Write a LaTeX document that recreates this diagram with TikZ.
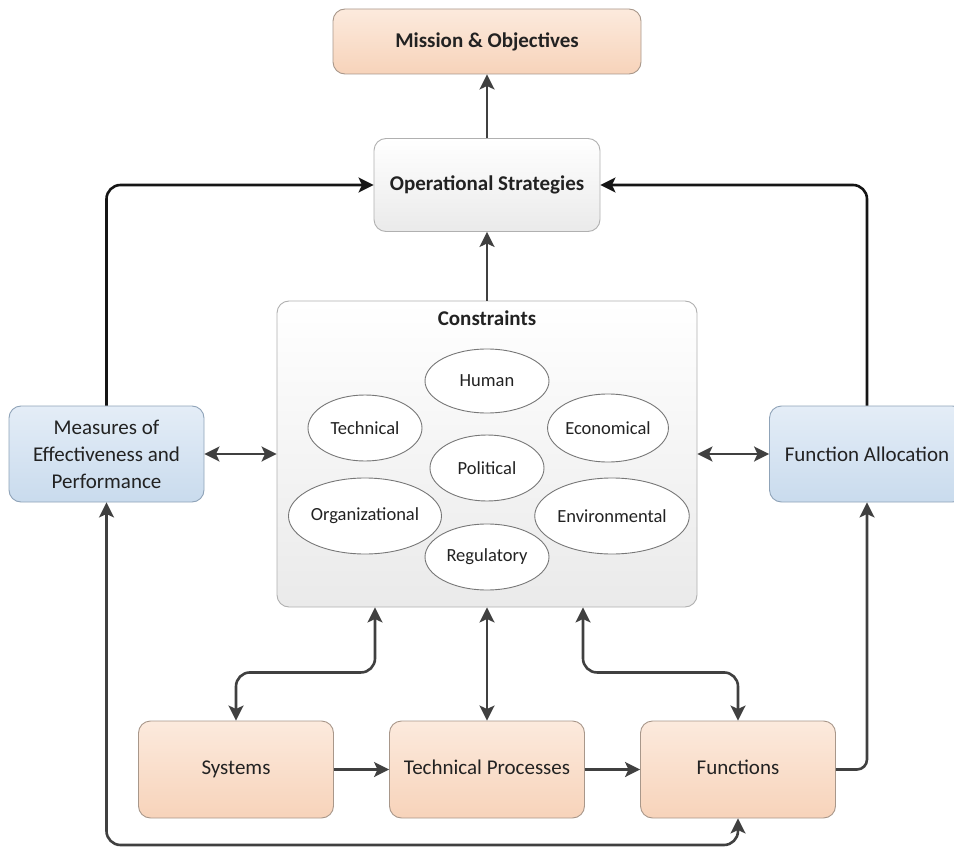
\documentclass[tikz,border=0pt]{standalone}
\usepackage{fontspec}
\setmainfont{Carlito}
\usetikzlibrary{arrows.meta,calc,shapes.geometric}

\definecolor{peachTop}{HTML}{FCEADD}
\definecolor{peachBot}{HTML}{F7D3BA}
\definecolor{peachLine}{HTML}{A8978A}
\definecolor{blueTop}{HTML}{E4EDF7}
\definecolor{blueBot}{HTML}{C9DBED}
\definecolor{blueLine}{HTML}{8FA3B8}
\definecolor{greyTop}{HTML}{FFFFFF}
\definecolor{greyBot}{HTML}{EAEAEA}
\definecolor{greyLine}{HTML}{B0B0B0}
\definecolor{ellLine}{HTML}{777777}
\definecolor{wire}{HTML}{404040}
\definecolor{wireDark}{HTML}{151515}
\definecolor{ink}{HTML}{222222}

\begin{document}
\begin{tikzpicture}[x=1pt,y=-1pt,
  >={Stealth[length=15pt,width=15pt,inset=3.5pt]},
  box/.style={draw, rounded corners=12pt, line width=0.9pt, align=center,
    inner sep=0pt, text=ink, font=\fontsize{21}{27}\selectfont},
  peachbox/.style={box, draw=peachLine, top color=peachTop, bottom color=peachBot,
    minimum width=195pt, minimum height=97pt},
  rowbox/.style={peachbox, text height=14pt, text depth=5pt},
  bluebox/.style={box, draw=blueLine, top color=blueTop, bottom color=blueBot,
    minimum width=195pt, minimum height=96pt},
  greybox/.style={box, draw=greyLine, top color=greyTop, bottom color=greyBot},
  oval/.style={ellipse, draw=ellLine, fill=white, line width=0.9pt, inner sep=0pt,
    text=ink, font=\fontsize{18.5}{21}\selectfont},
  conn/.style={line width=2.6pt, draw=wire, rounded corners=14pt},
  topconn/.style={conn, draw=wireDark}]

\useasboundingbox (0,0) rectangle (954,848);
\clip (0,0) rectangle (954,848);

% upper chain
\node[peachbox, minimum width=308pt, minimum height=65pt, font=\fontsize{21}{27}\selectfont\bfseries]
  (mission) at (487,41.5) {Mission \& Objectives};
\node[greybox, minimum width=226pt, minimum height=93pt, font=\fontsize{21}{27}\selectfont\bfseries]
  (ops) at (487,185) {Operational Strategies};

% constraints panel with its ovals
\node[greybox, minimum width=420pt, minimum height=306pt] (cons) at (487,454) {};
\node[text=ink, font=\fontsize{21}{27}\selectfont\bfseries] (constitle) at (487,318) {Constraints};
\node[oval, minimum width=124pt, minimum height=64pt] (human) at (487,381) {Human};
\node[oval, minimum width=114pt, minimum height=66pt] (tech) at (365,428) {Technical};
\node[oval, minimum width=116pt, minimum height=68pt] (econ) at (608,428) {Economical};
\node[oval, minimum width=114pt, minimum height=66pt] (pol) at (487,468) {Political};
\node[oval, minimum width=146pt, minimum height=76pt] (org) at (365,516) {Organizational};
\node[oval, minimum width=146pt, minimum height=76pt] (env) at (612,516) {Environmental};
\node[oval, minimum width=124pt, minimum height=66pt] (reg) at (487,557) {Regulatory};

% side boxes
\node[bluebox] (meas) at (106.5,454) {Measures of\\Effectiveness and\\Performance};
\node[bluebox] (falloc) at (867,454) {Function Allocation};

% bottom row
\node[rowbox] (sys) at (236,769.5) {Systems};
\node[rowbox] (tp) at (487,769.5) {Technical Processes};
\node[rowbox] (func) at (738,769.5) {Functions};

\coordinate (loopy) at (0,845);

% connectors
\draw[conn,->] (ops) -- (mission);
\draw[conn,->] (cons) -- (ops);
\draw[topconn,->] (meas.north) |- (ops.west);
\draw[topconn,->] (falloc.north) |- (ops.east);
\draw[conn,<->] (meas) -- (cons);
\draw[conn,<->] (cons) -- (falloc);
\draw[conn,<->] ($(cons.south)+(-112,0)$) -- ++(0,65) -| (sys.north);
\draw[conn,<->] (cons.south) -- (tp.north);
\draw[conn,<->] ($(cons.south)+(96,0)$) -- ++(0,65) -| (func.north);
\draw[conn,->] (sys) -- (tp);
\draw[conn,->] (tp) -- (func);
\draw[conn,->,rounded corners=10pt] (func.east) -| (falloc.south);
\draw[conn,<->] (meas.south) |- (loopy -| func.south) -- (func.south);

\end{tikzpicture}
\end{document}
